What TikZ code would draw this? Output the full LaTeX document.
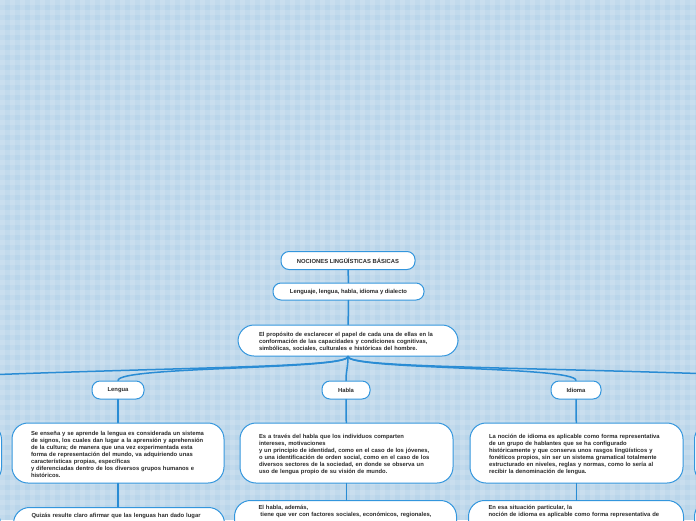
\documentclass[tikz,border=0pt]{standalone}
\usepackage{fontspec}
\setmainfont{Liberation Sans}
\definecolor{bgblue}{HTML}{B9D5EA}
\definecolor{boxblue}{HTML}{3396DD}
\definecolor{linkblue}{HTML}{2A8CD4}
\definecolor{txt}{HTML}{2B2B2B}
\newcommand{\lines}[1]{\begin{tabular}{@{}l@{}}#1\end{tabular}}
\newcommand{\clines}[1]{\raisebox{-1.8pt}[\height][\depth]{\begin{tabular}{@{}l@{}}#1\end{tabular}}}
\tikzset{
  base/.style={draw=boxblue, line width=1pt, fill=white, text=txt,
    font=\bfseries\fontsize{5.85}{7}\selectfont},
  pill/.style={base, rounded corners=8pt, inner sep=0pt, align=center},
  bigbox/.style={base, rounded corners=16pt, align=left, inner ysep=0pt},
  conn/.style={draw=linkblue, line width=1.5pt, line cap=round},
}
\begin{document}
\begin{tikzpicture}[x=1pt,y=-1pt]
\useasboundingbox (0,0) rectangle (696,520);
\clip (0,0) rectangle (696,520);
\fill[bgblue] (0,0) rectangle (696,520);
\foreach \x in {0,10,...,690} \fill[white,opacity=0.13] (\x,0) rectangle ++(5,520);
\foreach \y in {0,10,...,520} \fill[white,opacity=0.13] (0,\y) rectangle ++(696,5);

% top chain
\node[pill, minimum width=134pt, minimum height=18pt] (title) at (348,260.5) {NOCIONES LINGÜÍSTICAS BÁSICAS};
\node[pill, minimum width=151pt, minimum height=17pt] (sub) at (348.5,291.5) {Lenguaje, lengua, habla, idioma y dialecto};
\node[bigbox, text width=178pt, inner xsep=21pt, minimum height=31pt] (prop) at (348,340.5)
  {\clines{El propósito de esclarecer el papel de cada una de ellas en la\\
   conformación de las capacidades y condiciones cognitivas,\\
   simbólicas, sociales, culturales e históricas del hombre.}};

% level 2
\node[pill, minimum width=52pt, minimum height=18pt] (lengua) at (118,390) {Lengua};
\node[pill, minimum width=48pt, minimum height=18pt] (habla) at (346,390) {Habla};
\node[pill, minimum width=50pt, minimum height=18pt] (idioma) at (576,390) {Idioma};

% descriptions
\node[bigbox, text width=174pt, inner xsep=19pt, minimum height=60pt] (lengD) at (118,453)
  {\clines{Se enseña y se aprende la lengua es considerada un sistema\\
   de signos, los cuales dan lugar a la aprensión y aprehensión\\
   de la cultura; de manera que una vez experimentada esta\\
   forma de representación del mundo, va adquiriendo unas\\
   características propias, específicas\\
   y diferenciadas dentro de los diversos grupos humanos e\\
   históricos.}};
\node[bigbox, text width=175pt, inner xsep=19pt, minimum height=60pt] (hablaD) at (346.5,453)
  {\clines{Es a través del habla que los individuos comparten\\
   intereses, motivaciones\\
   y un principio de identidad, como en el caso de los jóvenes,\\
   o una identificación de orden social, como en el caso de los\\
   diversos sectores de la sociedad, en donde se observa un\\
   uso de lengua propio de su visión de mundo.}};
\node[bigbox, text width=175pt, inner xsep=19pt, minimum height=60pt] (idiomaD) at (576.5,453)
  {\clines{La noción de idioma es aplicable como forma representativa\\
   de un grupo de hablantes que se ha configurado\\
   históricamente y que conserva unos rasgos lingüísticos y\\
   fonéticos propios, sin ser un sistema gramatical totalmente\\
   estructurado en niveles, reglas y normas, como lo sería al\\
   recibir la denominación de lengua.}};

% second row (cut by the page)
\node[bigbox, anchor=north west, text width=175pt, inner xsep=18pt, inner ysep=5pt, text depth=60pt] (leng2) at (13,507)
  {\lines{Quizás resulte claro afirmar que las lenguas han dado lugar}};
\node[bigbox, anchor=north west, text width=174pt, inner xsep=24pt, inner ysep=4pt, text depth=60pt] (habla2) at (234,500)
  {\lines{El habla, además,\\ \ tiene que ver con factores sociales, económicos, regionales,}};
\node[bigbox, anchor=north west, text width=175pt, inner xsep=20pt, inner ysep=4pt, text depth=60pt] (idioma2) at (468,500)
  {\lines{En esa situación particular, la\\ noción de idioma es aplicable como forma representativa de}};

% partial nodes at the edges
\node[bigbox, anchor=north east, minimum width=200pt, minimum height=60pt] (lpart) at (2,423) {};
\node[bigbox, anchor=north east, minimum width=200pt, minimum height=60pt] (lpart2) at (1,507) {};
\node[bigbox, anchor=north west, minimum width=200pt, minimum height=60pt] (rpart) at (694,423) {};
\node[bigbox, anchor=north west, minimum width=200pt, minimum height=60pt] (rpart2) at (694,500) {};
\coordinate (ledge) at (-2,374.5);
\coordinate (redge) at (698,373.5);

% connectors
\draw[conn] (title) -- (sub);
\draw[conn] (sub) -- (prop);
\draw[conn] (prop.south) .. controls (348,367) and (200,367) .. (ledge);
\draw[conn] (prop.south) .. controls (348,367) and (500,367) .. (redge);
\draw[conn] (prop.south) .. controls (348,370) and (118,366) .. (lengua.north);
\draw[conn] (prop.south) .. controls (348,370) and (576,366) .. (idioma.north);
\draw[conn] (prop.south) .. controls (348,368) and (346,370) .. (habla.north);
\draw[conn] (lengua) -- (lengD);
\draw[conn] (habla) -- (hablaD);
\draw[conn] (idioma) -- (idiomaD);
\draw[conn] (lengD) -- (lengD.south |- leng2.north);
\draw[conn] (hablaD) -- (hablaD.south |- habla2.north);
\draw[conn] (idiomaD) -- (idiomaD.south |- idioma2.north);
\end{tikzpicture}
\end{document}
